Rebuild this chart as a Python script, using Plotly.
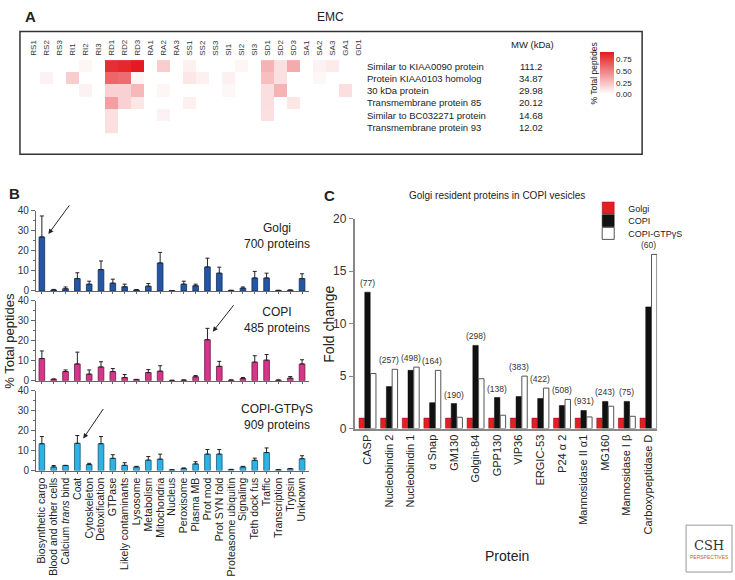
import plotly.graph_objects as go

W, H = 735, 580
FONT = "Arial, Liberation Sans, sans-serif"


def px(x):
    return x / W


def py(y):
    return 1 - y / H


# ---------------- Panel A data ----------------
emc_samples = ["RS1", "RS2", "RS3", "RI1", "RI2", "RI3", "RD1", "RD2", "RD3", "RA1", "RA2", "RA3",
               "SS1", "SS2", "SS3", "SI1", "SI2", "SI3", "SD1", "SD2", "SD3", "SA1", "SA2", "SA3",
               "GA1", "GD1"]
emc_proteins = ["Similar to KIAA0090 protein", "Protein KIAA0103 homolog", "30 kDa protein",
                "Transmembrane protein 85", "Similar to BC032271 protein", "Transmembrane protein 93"]
emc_mw = ["111.2", "34.87", "29.98", "20.12", "14.68", "12.02"]
emc_row1 = [0, 0, 0, 0, 0.04, 0, 0.82, 0.85, 0.90, 0, 0.20, 0, 0.06, 0, 0, 0, 0.04, 0, 0.30, 0.12, 0.33, 0, 0.05, 0.08, 0, 0]
emc_row2 = [0, 0.05, 0, 0.20, 0, 0, 0.60, 0.58, 0.04, 0, 0, 0, 0.10, 0.06, 0, 0.06, 0, 0, 0.25, 0.12, 0, 0, 0.03, 0, 0, 0]
emc_row3 = [0, 0, 0, 0, 0.05, 0, 0.18, 0.18, 0.28, 0, 0.04, 0, 0, 0, 0, 0.03, 0, 0, 0.13, 0.30, 0, 0, 0, 0, 0.13, 0]
emc_row4 = [0, 0, 0, 0, 0, 0, 0.38, 0.18, 0.10, 0, 0, 0, 0.06, 0, 0, 0, 0, 0, 0.13, 0, 0.10, 0, 0, 0, 0, 0]
emc_row5 = [0, 0, 0, 0, 0, 0, 0.12, 0, 0, 0, 0.05, 0, 0, 0, 0, 0, 0, 0, 0.12, 0, 0, 0, 0, 0, 0, 0]
emc_row6 = [0, 0, 0, 0, 0, 0, 0.12, 0, 0, 0, 0, 0, 0, 0, 0, 0, 0, 0, 0, 0, 0, 0, 0, 0, 0, 0]
colorbar_ticks = [0, 0.25, 0.5, 0.75]
colorbar_labels = ["0.00", "0.25", "0.50", "0.75"]

# ---------------- Panel B data ----------------
categories_b = ["Biosynthetic cargo", "Blood and other cells", "Calcium <i>trans</i> bind", "Coat",
                "Cytoskeleton", "Detoxification", "GTPase", "Likely contaminants", "Lysosome",
                "Metabolism", "Mitochondria", "Nucleus", "Peroxisome", "Plasma MB", "Prot mod",
                "Prot SYN fold", "Proteasome ubiquitin", "Signaling", "Teth dock fus", "Traffic",
                "Transcription", "Trypsin", "Unknown"]
golgi_vals = [27, 0.5, 1.1, 6.2, 3.4, 10.7, 3.9, 2.1, 0.5, 2.4, 14, 0.2, 3.4, 2.6, 12, 8.9, 0.3, 1.4, 6.5, 6.5, 0.3, 0.4, 6.2]
golgi_err = [10.5, 0.3, 0.9, 2.9, 1.5, 4.3, 2.0, 1.3, 0.2, 1.3, 5.3, 0, 1.5, 0.8, 4.4, 3.0, 0, 0.6, 3.3, 2.4, 0, 0.1, 2.4]
copi_vals = [11.1, 0.7, 4.6, 8.4, 3.3, 6.9, 4.6, 1.6, 0.6, 4.1, 4.8, 0.2, 0.3, 2.0, 20.5, 7.2, 0.3, 1.1, 9.3, 10.3, 0.3, 1.3, 8.4]
copi_err = [3.8, 0.2, 0.8, 5.9, 2.1, 2.6, 1.5, 1.5, 0.1, 1.5, 2.7, 0, 0.1, 0.6, 5.7, 2.5, 0.1, 0.5, 3.2, 2.8, 0.1, 0.8, 2.1]
gtp_vals = [13.4, 1.8, 2.5, 13.6, 3.0, 13.4, 6.1, 2.6, 1.8, 5.2, 5.7, 0.4, 1.0, 3.3, 8.2, 8.2, 0.5, 1.8, 5.1, 9.0, 0.4, 0.9, 5.9]
gtp_err = [3.6, 0.7, 0.1, 3.9, 0.6, 3.6, 1.8, 1.3, 0.3, 1.8, 2.5, 0.1, 0.3, 1.1, 2.3, 2.3, 0.1, 0.3, 1.1, 2.3, 0.1, 0.1, 1.5]
b_titles = ["Golgi<br>700 proteins", "COPI<br>485 proteins", "COPI-GTPγS<br>909 proteins"]

# ---------------- Panel C data ----------------
proteins_c = ["CASP", "Nucleobindin 2", "Nucleobindin 1", "α Snap", "GM130", "Golgin-84", "GPP130",
              "VIP36", "ERGIC-53", "P24 α 2", "Mannosidase II α1", "MG160", "Mannosidase I β",
              "Carboxypeptidase D"]
golgi_c = [1, 1, 1, 1, 1, 1, 1, 1, 1, 1, 1, 1, 1, 1]
copi_c = [13.0, 4.0, 5.55, 2.47, 2.38, 7.93, 2.96, 3.06, 2.87, 2.19, 1.73, 2.59, 2.59, 11.6]
gtp_c = [5.25, 5.65, 5.86, 5.55, 1.08, 4.75, 1.27, 5.0, 3.86, 2.78, 1.11, 2.13, 1.17, 16.6]
counts_c = ["(77)", "(257)", "(498)", "(164)", "(190)", "(298)", "(138)", "(383)", "(422)",
            "(508)", "(931)", "(243)", "(75)", "(60)"]

fig = go.Figure()

# ---- Panel A heatmap ----
fig.add_trace(go.Heatmap(
    z=[emc_row1, emc_row2, emc_row3, emc_row4, emc_row5, emc_row6],
    x=emc_samples, y=emc_proteins,
    colorscale=[[0, "#ffffff"], [1, "#e41a20"]], zmin=0, zmax=0.9,
    xaxis="x", yaxis="y", hoverinfo="skip",
    colorbar=dict(x=px(600), xanchor="left", y=py(68), yanchor="middle",
                  lenmode="pixels", len=42, thickness=14, outlinewidth=0,
                  tickvals=colorbar_ticks, ticktext=colorbar_labels,
                  tickfont=dict(size=8, family=FONT, color="#222"), ticks="",
                  xpad=0, ypad=0),
))

# ---- Panel B bars ----
b_series = [(golgi_vals, golgi_err, "#2456a4", "#14305e", "x2", "y2"),
            (copi_vals, copi_err, "#d6368a", "#6e1845", "x3", "y3"),
            (gtp_vals, gtp_err, "#2eb2e4", "#135a78", "x4", "y4")]
for vals, err, col, lcol, xa, ya in b_series:
    fig.add_trace(go.Bar(
        x=categories_b, y=vals, xaxis=xa, yaxis=ya, width=0.48,
        marker=dict(color=col, line=dict(color=lcol, width=0.8)),
        error_y=dict(type="data", array=err, arrayminus=[0] * len(err), symmetric=False,
                     color="#222", thickness=1, width=2),
        showlegend=False, hoverinfo="skip",
    ))

# ---- Panel C bars (each series in its own compact legend) ----
fig.add_trace(go.Bar(x=proteins_c, y=golgi_c, name="Golgi", xaxis="x5", yaxis="y5", legend="legend",
                     marker=dict(color="#e31e24", line=dict(color="#8a1014", width=0.5))))
fig.add_trace(go.Bar(x=proteins_c, y=copi_c, name="COPI", xaxis="x5", yaxis="y5", legend="legend2",
                     marker=dict(color="#111111", line=dict(color="#000", width=0.5))))
fig.add_trace(go.Bar(x=proteins_c, y=gtp_c, name="COPI-GTPγS", xaxis="x5", yaxis="y5", legend="legend3",
                     marker=dict(color="#ffffff", line=dict(color="#555", width=1))))

ann = []
# Panel letters / titles
ann.append(dict(text="<b>A</b>", x=px(30), y=py(10), font=dict(size=15)))
ann.append(dict(text="EMC", x=px(330), y=py(10), font=dict(size=12)))
ann.append(dict(text="<b>B</b>", x=px(14), y=py(191), font=dict(size=15)))
ann.append(dict(text="<b>C</b>", x=px(329), y=py(193), font=dict(size=15)))
ann.append(dict(text="Golgi resident proteins in COPI vesicles", x=px(497), y=py(193),
                font=dict(size=10)))
# Panel A row labels and MW
ann.append(dict(text="MW (kDa)", x=px(532), y=py(38), font=dict(size=9.5)))
for name, mw in zip(emc_proteins, emc_mw):
    ann.append(dict(text=name, xref="paper", yref="y", x=px(364), y=name, xanchor="left",
                    font=dict(size=9.5)))
    ann.append(dict(text=mw, xref="paper", yref="y", x=px(531), y=name, font=dict(size=9.5)))
ann.append(dict(text="% Total peptides", x=px(594), y=py(68), textangle=-90, font=dict(size=8.5)))

# Panel B texts
for t, yc in zip(b_titles, [235, 320.5, 420.5]):
    ann.append(dict(text=t, x=px(276), y=py(yc), align="center", font=dict(size=12)))
ann.append(dict(text="% Total peptides", x=px(9), y=py(342), textangle=-90, font=dict(size=13)))
# arrows
ann.append(dict(text="", xref="x2", yref="y2", x=0.55, y=28.5, ax=22, ay=-30, showarrow=True,
                arrowhead=2, arrowsize=1, arrowwidth=1, arrowcolor="#222"))
ann.append(dict(text="", xref="x3", yref="y3", x=14.45, y=24.5, ax=22, ay=-28, showarrow=True,
                arrowhead=2, arrowsize=1, arrowwidth=1, arrowcolor="#222"))
ann.append(dict(text="", xref="x4", yref="y4", x=3.5, y=16, ax=21, ay=-31, showarrow=True,
                arrowhead=2, arrowsize=1, arrowwidth=1, arrowcolor="#222"))

# Panel C texts
for name, c, g, lab in zip(proteins_c, copi_c, gtp_c, counts_c):
    ann.append(dict(text=lab, xref="x5", yref="y5", x=name, y=max(c, g), yanchor="bottom",
                    yshift=2, font=dict(size=8.5, color="#333")))
ann.append(dict(text="Fold change", x=px(329), y=py(325), textangle=-90, font=dict(size=14)))
ann.append(dict(text="Protein", x=px(507), y=py(563), font=dict(size=14)))
# Logo
ann.append(dict(text="CSH", x=px(709), y=py(552), font=dict(size=13, family="DejaVu Serif", color="#333")))
ann.append(dict(text="PERSPECTIVES", x=px(709), y=py(564), font=dict(size=5, color="#c8641e")))

for a in ann:
    a.setdefault("xref", "paper")
    a.setdefault("yref", "paper")
    a.setdefault("xanchor", "center")
    a.setdefault("yanchor", "middle")
    a.setdefault("showarrow", False)
    f = a.setdefault("font", {})
    f.setdefault("family", FONT)
    f.setdefault("color", "#222")

shapes = [
    dict(type="rect", xref="paper", yref="paper", x0=px(19), x1=px(642), y0=py(151), y1=py(25),
         line=dict(color="#333", width=1.5)),
    dict(type="rect", xref="paper", yref="paper", x0=px(686), x1=px(732), y0=py(579), y1=py(531),
         line=dict(color="#999", width=1)),
]

tickf = dict(family=FONT, size=10, color="#333")
b_x = dict(domain=[px(35), px(308)], range=[-0.5, 22.55], type="category",
           tickmode="array", tickvals=categories_b, ticktext=categories_b,
           showline=True, linecolor="#666", linewidth=1, ticks="outside", ticklen=2,
           tickcolor="#666", showgrid=False, zeroline=False)
b_y = dict(range=[0, 40], dtick=10, showline=True, linecolor="#666", linewidth=1,
           ticks="outside", ticklen=4, tickcolor="#666", showgrid=False, zeroline=False,
           tickfont=tickf, minor=dict(dtick=5, ticks="outside", ticklen=2, tickcolor="#666"))

leg = dict(x=px(588), xanchor="left", yanchor="middle", bgcolor="rgba(0,0,0,0)",
           font=dict(family=FONT, size=9, color="#222"), tracegroupgap=0, itemwidth=30)

fig.update_layout(
    width=W, height=H, margin=dict(l=0, r=0, t=0, b=0),
    paper_bgcolor="white", plot_bgcolor="white",
    font=dict(family=FONT, color="#222"),
    barmode="group", bargap=0.2, bargroupgap=0.06,
    xaxis=dict(domain=[px(25.5), px(364.5)], anchor="y", side="top", tickangle=-90,
               tickfont=dict(family=FONT, size=8, color="#333"), showline=False,
               showgrid=False, zeroline=False, ticks="", ticklabelstandoff=2),
    yaxis=dict(domain=[py(131), py(53)], anchor="x", autorange="reversed",
               showticklabels=False, showgrid=False, zeroline=False, showline=False, ticks=""),
    xaxis2=dict(anchor="y2", showticklabels=False, **b_x),
    yaxis2=dict(domain=[py(291), py(209)], anchor="x2", **b_y),
    xaxis3=dict(anchor="y3", showticklabels=False, **b_x),
    yaxis3=dict(domain=[py(383), py(301)], anchor="x3", **b_y),
    xaxis4=dict(anchor="y4", tickangle=-90, tickfont=dict(family=FONT, size=10.5, color="#222"), **b_x),
    yaxis4=dict(domain=[py(475), py(393)], anchor="x4", **b_y),
    xaxis5=dict(domain=[px(354), px(657)], anchor="y5", range=[-0.6, 13.4], type="category",
                tickangle=-90, showline=True, linecolor="#888", linewidth=1.5, ticks="",
                showgrid=False, zeroline=False, tickfont=dict(family=FONT, size=11, color="#222")),
    yaxis5=dict(domain=[py(432), py(217)], anchor="x5", range=[0, 20], dtick=5,
                showline=True, linecolor="#888", linewidth=1.5, ticks="outside", ticklen=4,
                tickcolor="#888", showgrid=False, zeroline=False,
                tickfont=dict(family=FONT, size=12, color="#333")),
    legend=dict(y=py(206), **leg),
    legend2=dict(y=py(219), **leg),
    legend3=dict(y=py(232), **leg),
    annotations=ann, shapes=shapes,
)

fig.write_html("out.html", config={"displayModeBar": False},
               post_script="document.body.style.margin='0px';document.body.style.overflow='hidden';")
